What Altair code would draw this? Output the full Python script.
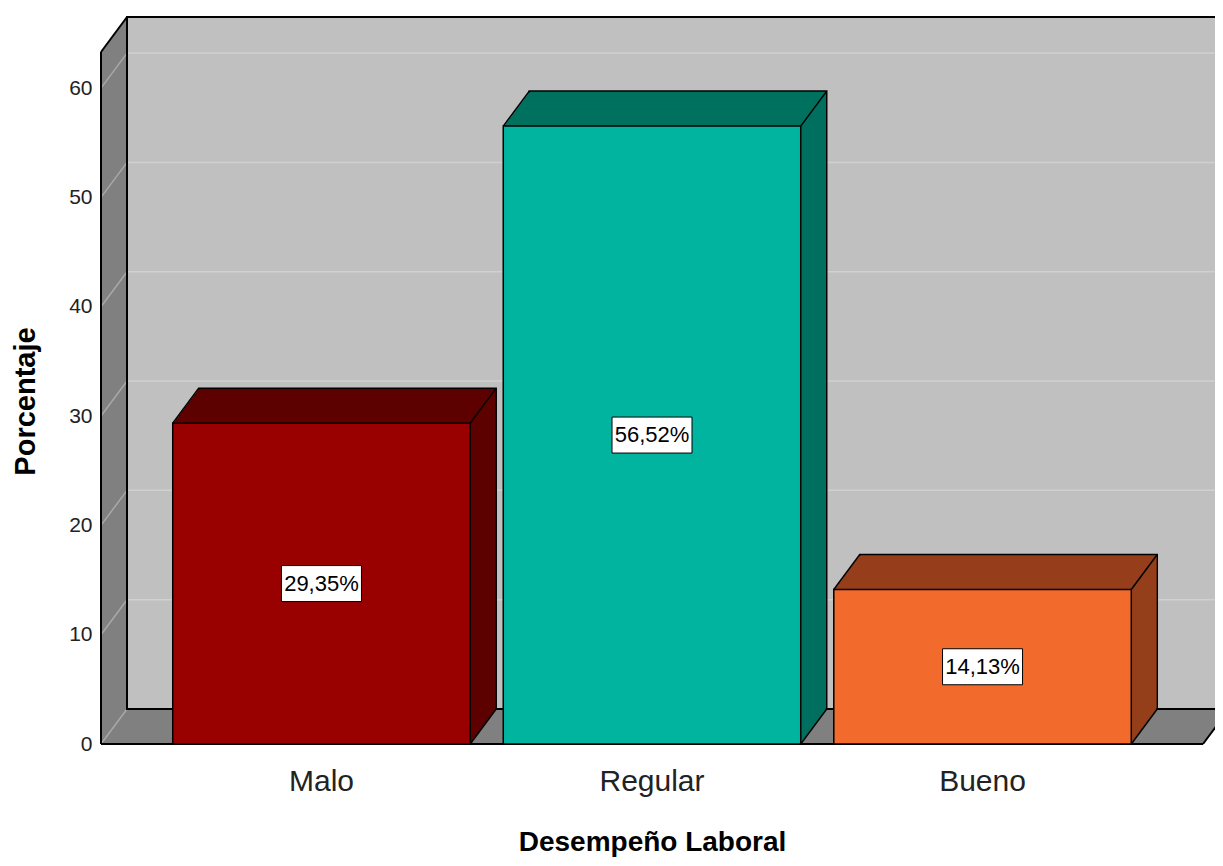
import altair as alt
import pandas as pd

# ---- data ----
categories = ["Malo", "Regular", "Bueno"]
percentages = [29.35, 56.52, 14.13]
front_colors = ["#990000", "#00B4A0", "#F26A2C"]
side_colors = ["#5E0000", "#00705F", "#963E1B"]
y_ticks = [0, 10, 20, 30, 40, 50, 60]

# ---- layout / style ----
W, H = 1102, 692
YMAX = 63.3
DX, DY = 26, 35
R = DY / DX
FONT = "Liberation Sans"

bars = pd.DataFrame({
    "cat": categories,
    "val": percentages,
    "zero": [0] * len(categories),
    "half": [v / 2 for v in percentages],
    "label": [f"{v:.2f}".replace(".", ",") + "%" for v in percentages],
    "front": front_colors,
    "side": side_colors,
})
frame = pd.DataFrame({"lo": [0], "hi": [YMAX]})
ticks_df = pd.DataFrame({"v": y_ticks})
grid_df = pd.DataFrame({"v": [t for t in y_ticks if t > 0]})

xscale = alt.Scale(domain=categories, paddingInner=0.1, paddingOuter=0.217)
yscale = alt.Scale(domain=[0, YMAX], nice=False, zero=False)

x_axis = alt.Axis(domain=False, ticks=False, grid=False, labelFont=FONT,
                  labelFontSize=30, labelColor="#222222", labelAngle=0,
                  labelBaseline="alphabetic", labelPadding=46,
                  titleFont=FONT, titleFontSize=28, titleFontWeight="bold",
                  titleColor="#000000", titleBaseline="alphabetic",
                  titleX=W / 2, titleY=106, titleAnchor="middle", titleAlign="center")
y_axis = alt.Axis(values=y_ticks, domain=False, ticks=False, grid=False,
                  labelFont=FONT, labelFontSize=21, labelColor="#222222",
                  labelPadding=9, titleFont=FONT, titleFontSize=29,
                  titleFontWeight="bold", titleColor="#000000", titleAngle=-90,
                  titleX=-76, titleY=349, titleAlign="center", titleBaseline="middle")

X_TITLE = "Desempeño Laboral"
Y_TITLE = "Porcentaje"


def yenc(field):
    return alt.Y(f"{field}:Q", scale=yscale, axis=y_axis, title=Y_TITLE)


X = alt.X("cat:N", scale=xscale, axis=x_axis, title=X_TITLE)

layers = []

# walls (left wall + floor) by sweeping the frame backwards
for k in range(0, DX + 1):
    layers.append(
        alt.Chart(frame).mark_rect(color="#808080", xOffset=k, x2Offset=k,
                                   yOffset=-k * R, y2Offset=-k * R)
        .encode(x=alt.value(0), x2=alt.value(W), y=yenc("hi"), y2="lo:Q")
    )

# left wall grid diagonals
layers.append(
    alt.Chart(ticks_df).mark_rule(color="#A8A8A8", strokeWidth=1.5, y2Offset=-DY)
    .encode(x=alt.value(0), x2=alt.value(DX), y=yenc("v"), y2="v:Q")
)

# back wall fill
layers.append(
    alt.Chart(frame).mark_rect(color="#C0C0C0", xOffset=DX, x2Offset=DX,
                               yOffset=-DY, y2Offset=-DY)
    .encode(x=alt.value(0), x2=alt.value(W), y=yenc("hi"), y2="lo:Q")
)
# back wall grid
layers.append(
    alt.Chart(grid_df).mark_rule(color="#D0D0D0", strokeWidth=1.5, xOffset=DX, x2Offset=DX,
                                 yOffset=-DY, y2Offset=-DY)
    .encode(x=alt.value(0), x2=alt.value(W), y=yenc("v"), y2="v:Q")
)
# back wall outline
layers.append(
    alt.Chart(frame).mark_rect(fill=None, fillOpacity=0, stroke="#000000", strokeWidth=2,
                               xOffset=DX, x2Offset=DX, yOffset=-DY, y2Offset=-DY)
    .encode(x=alt.value(0), x2=alt.value(W), y=yenc("hi"), y2="lo:Q")
)
# left wall front edge & floor front edge
layers.append(
    alt.Chart(frame).mark_rule(color="#000000", strokeWidth=2)
    .encode(x=alt.value(0), y=yenc("hi"), y2="lo:Q")
)
layers.append(
    alt.Chart(frame).mark_rule(color="#000000", strokeWidth=2)
    .encode(x=alt.value(0), x2=alt.value(W), y=yenc("lo"))
)
# left wall top diagonal
layers.append(
    alt.Chart(frame).mark_rule(color="#000000", strokeWidth=2, y2Offset=-DY)
    .encode(x=alt.value(0), x2=alt.value(DX), y=yenc("hi"), y2="hi:Q")
)
# floor right diagonal
layers.append(
    alt.Chart(frame).mark_rule(color="#000000", strokeWidth=2, y2Offset=-DY)
    .encode(x=alt.value(W), x2=alt.value(W + DX), y=yenc("lo"), y2="lo:Q")
)

# bar depth sweep (back to front)
for k in range(DX, 0, -1):
    kw = dict(xOffset=k, x2Offset=k, yOffset=-k * R, y2Offset=-k * R)
    if k == DX:
        kw.update(stroke="#000000", strokeWidth=1.5)
    layers.append(
        alt.Chart(bars).mark_bar(**kw)
        .encode(x=X, y=yenc("val"), y2="zero:Q", color=alt.Color("side:N", scale=None))
    )

# bar diagonal edges
edge_shape = f"M0,0L{DX},{-DY}"
for bp, yfield in [(0, "val"), (1, "val"), (1, "zero")]:
    layers.append(
        alt.Chart(bars).mark_point(shape=edge_shape, size=4, filled=False,
                                   stroke="#000000", strokeWidth=1.5, opacity=1)
        .encode(x=alt.X("cat:N", scale=xscale, axis=x_axis, title=X_TITLE, bandPosition=bp),
                y=yenc(yfield))
    )

# front faces
layers.append(
    alt.Chart(bars).mark_bar(stroke="#000000", strokeWidth=1.5)
    .encode(x=X, y=yenc("val"), y2="zero:Q", color=alt.Color("front:N", scale=None))
)

# value label boxes and text
layers.append(
    alt.Chart(bars).mark_point(shape="M-40,-18H40V18H-40Z", size=4, filled=True,
                               fill="#FFFFFF", stroke="#000000", strokeWidth=1, opacity=1)
    .encode(x=X, y=yenc("half"))
)
layers.append(
    alt.Chart(bars).mark_text(font=FONT, fontSize=22, color="#000000",
                              align="center", baseline="middle")
    .encode(x=X, y=yenc("half"), text="label:N")
)

chart = alt.layer(*layers).properties(
    width=W, height=H,
    padding={"left": 93, "top": 44, "right": 12, "bottom": 114},
    autosize=alt.AutoSizeParams(type="none"),
    background="#FFFFFF",
).configure_view(stroke=None)

chart.save("out.html", embed_options={"renderer": "svg", "actions": False})
